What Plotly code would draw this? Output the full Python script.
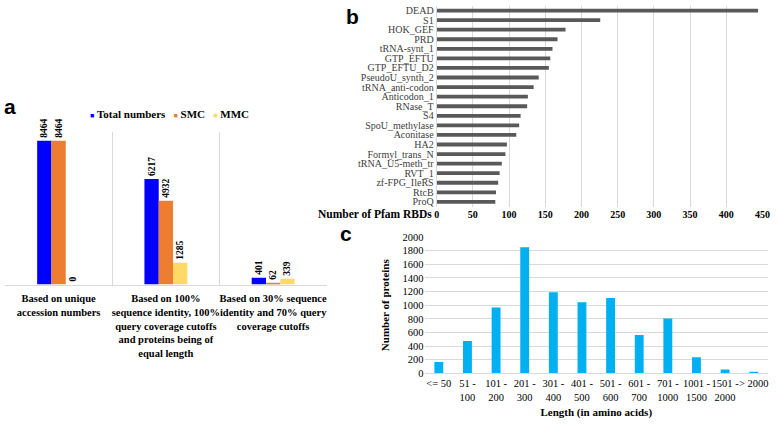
import plotly.graph_objects as go

W, H = 778, 427

# ---------- data ----------
a_categories = [
    "Based on unique<br>accession numbers",
    "Based on 100%<br>sequence identity, 100%<br>query coverage cutoffs<br>and proteins being of<br>equal length",
    "Based on 30% sequence<br>identity and 70% query<br>coverage cutoffs",
]
a_series = ["Total numbers", "SMC", "MMC"]
a_total = [8464, 6217, 401]
a_smc = [8464, 4932, 62]
a_mmc = [0, 1285, 339]

b_domains = ["DEAD", "S1", "HOK_GEF", "PRD", "tRNA-synt_1", "GTP_EFTU", "GTP_EFTU_D2",
             "PseudoU_synth_2", "tRNA_anti-codon", "Anticodon_1", "RNase_T", "S4",
             "SpoU_methylase", "Aconitase", "HA2", "Formyl_trans_N", "tRNA_U5-meth_tr",
             "RVT_1", "zf-FPG_IleRS", "RtcB", "ProQ"]
b_counts = [444, 226, 178, 167, 160, 157, 155, 141, 134, 126, 125, 116, 114, 110,
            97, 95, 90, 87, 85, 82, 81]

c_lengths = ["&lt;= 50", "51 -<br>100", "101 -<br>200", "201 -<br>300", "301 -<br>400",
             "401 -<br>500", "501 -<br>600", "601 -<br>700", "701 -<br>1000",
             "1001 -<br>1500", "1501 -<br>2000", "&gt; 2000"]
c_counts = [165, 474, 965, 1850, 1190, 1043, 1105, 563, 805, 235, 55, 22]


def px_x(x):
    return x / W


def px_y(y):
    return 1 - y / H


SERIF = "Liberation Serif"
SANS = "Liberation Sans"
GRID = "#d9d9d9"
A_COLORS = ["#0000ff", "#ed7d31", "#ffd966"]

fig = go.Figure()

# ---------- panel a ----------
lbl_font = dict(family=SERIF, size=9.5, color="black")
for name, vals, col in zip(a_series, [a_total, a_smc, a_mmc], A_COLORS):
    fig.add_trace(go.Bar(
        x=a_categories, y=vals, name=name, marker=dict(color=col, line=dict(width=0)),
        text=[f"<b>{v}</b>" for v in vals], textposition="outside", textangle=-90,
        constraintext="none", outsidetextfont=lbl_font, cliponaxis=False,
        showlegend=False, xaxis="x", yaxis="y",
    ))

legend_text = "&nbsp;&nbsp;&nbsp;".join(
    f'<span style="color:{c};font-size:7px">■</span> <b>{n}</b>'
    for n, c in zip(a_series, A_COLORS)
)

# ---------- panel b ----------
fig.add_trace(go.Bar(
    y=b_domains, x=b_counts, orientation="h", marker=dict(color="#595959", line=dict(width=0)),
    showlegend=False, xaxis="x2", yaxis="y2",
))

# ---------- panel c ----------
fig.add_trace(go.Bar(
    x=c_lengths, y=c_counts, marker=dict(color="#00b0f0", line=dict(width=0)),
    width=0.31, showlegend=False, xaxis="x3", yaxis="y3",
))

fig.update_layout(
    width=W, height=H,
    margin=dict(l=0, r=0, t=0, b=0),
    paper_bgcolor="white", plot_bgcolor="white",
    barmode="group", bargap=0.6, bargroupgap=0,
    font=dict(family=SERIF, color="black"),
    showlegend=False,
    # panel a axes
    xaxis=dict(domain=[px_x(2), px_x(328)], type="category", tickson="boundaries",
               showgrid=True, gridcolor=GRID, gridwidth=1, ticks="", showline=True,
               linecolor=GRID, mirror=False, zeroline=False, tickangle=0,
               ticklabelstandoff=4,
               tickprefix="<b>", ticksuffix="</b>",
               tickfont=dict(family=SERIF, size=10.5, color="black"), anchor="y"),
    yaxis=dict(domain=[px_y(287), px_y(130)], range=[0, 9000], showticklabels=False,
               showgrid=False, zeroline=False, showline=False, ticks="", anchor="x"),
    # panel b axes
    xaxis2=dict(domain=[px_x(439.3), px_x(769.3)], range=[0, 450], dtick=50,
                showgrid=True, gridcolor=GRID, gridwidth=1, ticks="", zeroline=False,
                showline=False, tickfont=dict(family=SERIF, size=10, color="black"),
                tickprefix="<b>", ticksuffix="</b>", anchor="y2"),
    yaxis2=dict(domain=[px_y(207), px_y(0.8)], autorange="reversed", type="category",
                tickmode="linear", dtick=1, tick0=0,
                ticks="", showline=True, linecolor=GRID, showgrid=False,
                tickfont=dict(family=SERIF, size=10, color="#404040"), anchor="x2"),
    # panel c axes
    xaxis3=dict(domain=[px_x(427), px_x(775)], type="category", ticks="", showline=True,
                linecolor=GRID, showgrid=False, tickangle=0,
                tickfont=dict(family=SERIF, size=10.5, color="black"),
                title=dict(text="<b>Length (in amino acids)</b>", standoff=6,
                           font=dict(family=SERIF, size=11, color="black")),
                anchor="y3"),
    yaxis3=dict(domain=[px_y(378), px_y(238.3)], range=[0, 2000], dtick=200,
                showgrid=True, gridcolor=GRID, gridwidth=1, ticks="", zeroline=False,
                showline=False, tickfont=dict(family=SERIF, size=10.5, color="black"),
                title=dict(text="<b>Number of proteins</b>", standoff=10,
                           font=dict(family=SERIF, size=11, color="black")),
                anchor="x3"),
    annotations=[
        dict(text=legend_text, x=px_x(86), y=px_y(112), xref="paper", yref="paper",
             xanchor="left", yanchor="middle", showarrow=False,
             font=dict(family=SERIF, size=11, color="black")),
        dict(text="<b>a</b>", x=px_x(-1), y=px_y(104), xref="paper", yref="paper",
             xanchor="left", yanchor="middle", showarrow=False,
             font=dict(family=SANS, size=21, color="black")),
        dict(text="<b>b</b>", x=px_x(345), y=px_y(12), xref="paper", yref="paper",
             xanchor="left", yanchor="middle", showarrow=False,
             font=dict(family=SANS, size=21, color="black")),
        dict(text="<b>c</b>", x=px_x(339), y=px_y(235), xref="paper", yref="paper",
             xanchor="left", yanchor="middle", showarrow=False,
             font=dict(family=SANS, size=21, color="black")),
        dict(text="<b>Number of Pfam RBDs</b>", x=px_x(437), y=px_y(215), xref="paper",
             yref="paper", xanchor="right", yanchor="middle", showarrow=False,
             font=dict(family=SERIF, size=11.5, color="black")),
    ],
)

fig.write_html("out.html", config={"displayModeBar": False},
               post_script="document.body.style.margin='0px';")
